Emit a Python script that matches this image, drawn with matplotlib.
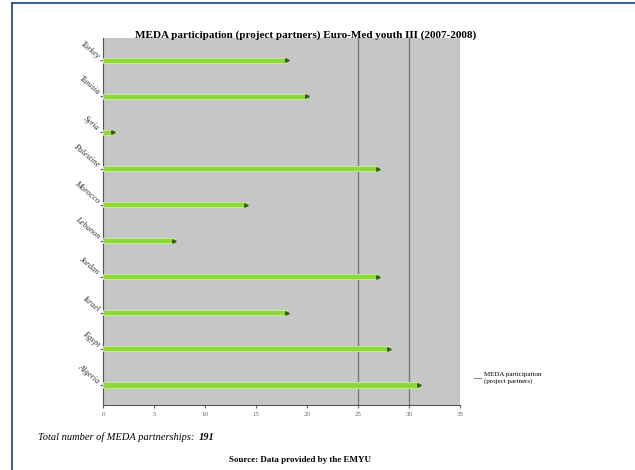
import matplotlib.pyplot as plt
from matplotlib.lines import Line2D

# MEDA partners, bottom to top as drawn
countries = ["Algeria", "Egypt", "Israel", "Jordan", "Lebanon",
             "Morocco", "Palestine", "Syria", "Tunisia", "Turkey"]
partners = [31, 28, 18, 27, 7, 14, 27, 1, 20, 18]
xticks = [0, 5, 10, 15, 20, 25, 30, 35]

plt.rcParams['font.family'] = ['Liberation Serif', 'DejaVu Serif']

fig = plt.figure(figsize=(6.35, 4.70), dpi=100)
fig.patch.set_facecolor('white')

# blue frame (top and left edges visible)
fig.add_artist(Line2D([12/635, 1], [1 - 3/470, 1 - 3/470], color='#1f3f8f', lw=1.2))
fig.add_artist(Line2D([12/635, 12/635], [0, 1 - 3/470], color='#1f3f8f', lw=1.2))

ax = fig.add_axes([103/635, 1 - 405/470, (460 - 103)/635, (405 - 38)/470])
ax.set_facecolor('#c6c6c6')

ypos = list(range(len(countries)))
ax.barh(ypos, partners, height=0.15, color='#8fd83c', edgecolor='#c5f28a',
        linewidth=0.6, zorder=3)
ax.plot(partners, ypos, ls='none', marker='>', ms=2.5, color='#3a5a1a', zorder=4)

for v in (25, 30):
    ax.axvline(v, color='#7a7a7a', lw=1.0, zorder=2)

ax.set_xlim(0, 35)
ax.set_ylim(-0.56, 9.62)
ax.set_xticks(xticks)
ax.set_xticklabels([str(t) for t in xticks], fontsize=5, color='#666666')
ax.set_yticks(ypos)
ax.set_yticklabels(countries, fontsize=6, style='italic', rotation=-40,
                   ha='right', va='bottom', rotation_mode='anchor', color='#333333')
ax.tick_params(axis='both', length=2, color='#666666', pad=3)
for side in ('top', 'right'):
    ax.spines[side].set_visible(False)
ax.spines['left'].set_color('#555555')
ax.spines['bottom'].set_color('#555555')

fig.text(306/635, 1 - 35/470,
         "MEDA participation (project partners) Euro-Med youth III (2007-2008)",
         fontsize=8, fontweight='bold', ha='center', va='center')

fig.legend(handles=[Line2D([], [], color='#888888', lw=0.8)],
           labels=["MEDA participation\n(project partners)"],
           loc='upper left', bbox_to_anchor=(468/635, 1 - 366/470),
           frameon=False, fontsize=5, handlelength=1.0, handletextpad=0.4)

fig.text(38/635, 1 - 437/470, "Total number of MEDA partnerships: ",
         fontsize=7.5, style='italic', va='center')
fig.text(199/635, 1 - 437/470, "191", fontsize=7.5, style='italic',
         fontweight='bold', va='center')
fig.text(300/635, 1 - 460/470, "Source: Data provided by the EMYU",
         fontsize=6.5, fontweight='bold', ha='center', va='center')

fig.savefig("out.png", dpi=100)
